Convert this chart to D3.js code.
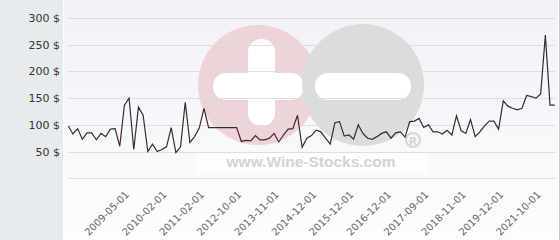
<!DOCTYPE html>
<html>
<head>
<meta charset="utf-8">
<script src="https://cdnjs.cloudflare.com/ajax/libs/d3/7.8.5/d3.min.js"></script>
<style>
  body { margin: 0; background: #fff; }
  svg { display: block; font-family: "DejaVu Sans", sans-serif; }
</style>
</head>
<body>
<div id="graph"></div>
<script>
// price per point, left to right
var prices = [
    98, 83, 93, 73, 85, 85, 72, 84, 78, 92, 93, 60,
    137, 150, 54, 133, 118, 50,
    64, 50, 54, 59, 95, 48, 59, 142, 67, 78, 94, 131,
    95, 95, 95, 95, 95, 95, 95,
    69, 71, 70, 80, 72, 72, 75, 84, 68, 81, 92, 93, 118, 58, 75, 80,
    90, 87, 75, 64, 104, 106, 79, 81, 73, 100, 84, 75, 73, 78, 84, 87, 75,
    85, 87, 77, 106, 107, 112, 95, 100, 87, 87, 83, 90, 81, 117, 89, 84, 110, 78,
    87, 98, 107, 107, 92, 145, 135, 131, 128, 131, 155, 153, 150, 158, 268, 137, 137
];
// dates shown on the x axis (every 8th point, starting at point 12)
var dateLabels = ["2009-05-01", "2010-02-01", "2011-02-01", "2012-10-01", "2013-11-01", "2014-12-01",
    "2015-12-01", "2016-12-01", "2017-09-01", "2018-11-01", "2019-12-01", "2021-10-01"];
var firstLabel = 12, labelStep = 8;
var yTicks = [0, 50, 100, 150, 200, 250, 300];

var width = 560, height = 240;

var svg = d3.select("#graph").append("svg")
    .attr("width", width)
    .attr("height", height);

var defs = svg.append("defs");
var grad = defs.append("linearGradient").attr("id", "bg")
    .attr("x1", 0).attr("y1", 0).attr("x2", 0).attr("y2", 1);
grad.append("stop").attr("offset", "0%").attr("stop-color", "#f1f2f7");
grad.append("stop").attr("offset", "100%").attr("stop-color", "#fdfdfe");

// left panel and plot background
svg.append("rect").attr("x", 0).attr("y", 0).attr("width", 63).attr("height", height).attr("fill", "#e7ebee");
svg.append("rect").attr("x", 64).attr("y", 0).attr("width", 494).attr("height", height).attr("fill", "url(#bg)");
svg.append("line").attr("x1", 559.5).attr("x2", 559.5).attr("y1", 0).attr("y2", height).attr("stroke", "#c8c8c8");

var x = d3.scaleLinear().domain([0, prices.length - 1]).range([68.3, 554.7]);
var y = d3.scaleLinear().domain([0, 300]).range([178.3, 18]);

// watermark
var wm = svg.append("g");
wm.append("circle").attr("cx", 258).attr("cy", 85).attr("r", 60).attr("fill", "#ecd4d9");
wm.append("rect").attr("x", 248).attr("y", 39).attr("width", 27).attr("height", 87).attr("rx", 13).attr("fill", "#fff");
wm.append("rect").attr("x", 213).attr("y", 73).attr("width", 91).attr("height", 27).attr("rx", 13).attr("fill", "#fff");
wm.append("circle").attr("cx", 363).attr("cy", 85).attr("r", 61).attr("fill", "#dcdcdc");
wm.append("rect").attr("x", 315).attr("y", 73).attr("width", 96).attr("height", 27).attr("rx", 13).attr("fill", "#fff");
wm.append("rect").attr("x", 197).attr("y", 152).attr("width", 230).attr("height", 22).attr("fill", "#fff").attr("opacity", 0.6);
wm.append("text").attr("x", 311).attr("y", 167).attr("text-anchor", "middle")
    .attr("font-size", 15.5).attr("font-weight", "bold").attr("fill", "#d3d3d3")
    .attr("font-family", "Liberation Sans, Arial, sans-serif")
    .text("www.Wine-Stocks.com");
wm.append("circle").attr("cx", 413).attr("cy", 140).attr("r", 7).attr("fill", "none").attr("stroke", "#d6d6d6").attr("stroke-width", 2);
wm.append("text").attr("x", 413).attr("y", 144.5).attr("text-anchor", "middle")
    .attr("font-size", 11).attr("font-weight", "bold").attr("fill", "#d6d6d6").text("R");

// grid lines + y labels
svg.append("g").selectAll("line")
    .data(yTicks)
    .enter().append("line")
    .attr("x1", 68).attr("x2", 555)
    .attr("y1", function (d) { return Math.round(y(d)) + 0.5; })
    .attr("y2", function (d) { return Math.round(y(d)) + 0.5; })
    .attr("stroke", "#dedede");

svg.append("g").selectAll("text")
    .data(yTicks.filter(function (d) { return d > 0; }))
    .enter().append("text")
    .attr("x", 60)
    .attr("y", function (d) { return y(d) + 4; })
    .attr("text-anchor", "end")
    .attr("font-size", 11)
    .attr("fill", "#333")
    .text(function (d) { return d + " $"; });

// x axis labels
var xAxis = d3.axisBottom(x)
    .tickValues(dateLabels.map(function (d, i) { return firstLabel + i * labelStep; }))
    .tickFormat(function (d) { return dateLabels[(d - firstLabel) / labelStep]; })
    .tickSize(0);

var gx = svg.append("g").attr("transform", "translate(0,186)").call(xAxis);
gx.select(".domain").remove();
gx.selectAll("text")
    .attr("font-size", 10)
    .attr("font-family", "DejaVu Sans, sans-serif")
    .attr("fill", "#666")
    .attr("text-anchor", "end")
    .attr("dx", "-0.3em")
    .attr("dy", "0.7em")
    .attr("transform", "rotate(-45)");

// price line
var line = d3.line()
    .x(function (d, i) { return x(i); })
    .y(function (d) { return y(d); });

svg.append("path")
    .datum(prices)
    .attr("fill", "none")
    .attr("stroke", "#3b2830")
    .attr("stroke-width", 1.2)
    .attr("d", line);
</script>
</body>
</html>
